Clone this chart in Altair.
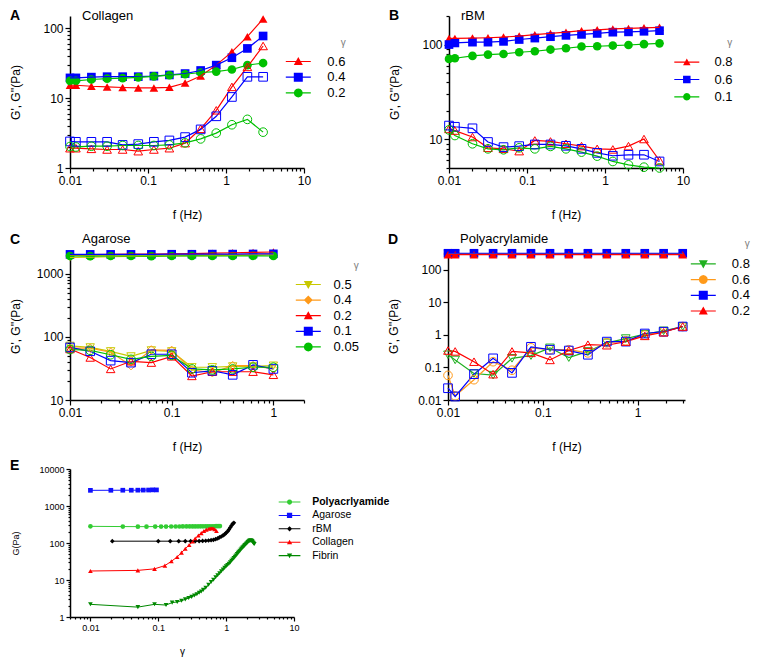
import math
import altair as alt
import pandas as pd

FONT = "Liberation Sans"

# ======================= DATA =======================
# ---- Panel A : Collagen ----
A_FREQ = [0.01, 0.0119, 0.0188, 0.0299, 0.0473, 0.075, 0.119, 0.188, 0.299, 0.473, 0.75, 1.19, 1.88, 2.99]
A_GAMMA = ["0.6", "0.4", "0.2"]
A_STORE_06 = [15.3, 15.3, 14.8, 14.5, 14.2, 14.0, 14.0, 14.3, 16.5, 20.7, 29.7, 46, 76, 136]
A_STORE_04 = [19.5, 19.5, 20.0, 20.3, 20.3, 20.3, 20.7, 21.5, 22.5, 24.9, 29.7, 37.9, 51.5, 77.6]
A_STORE_02 = [17.7, 17.7, 18.5, 19.0, 19.3, 19.8, 20.5, 21.3, 22.0, 23.3, 24.0, 25.7, 29.7, 31.8]
A_LOSS_06 = [1.92, 1.92, 1.88, 1.84, 1.84, 1.74, 1.84, 1.92, 2.27, 3.64, 6.7, 14.5, 28, 55.8]
A_LOSS_04 = [2.4, 2.37, 2.37, 2.37, 2.14, 2.2, 2.37, 2.48, 2.77, 3.57, 5.5, 10.4, 20.2, 20.2]
A_LOSS_02 = [2.03, 2.0, 2.05, 2.05, 2.1, 2.1, 2.1, 2.14, 2.29, 2.61, 3.16, 4.16, 4.97, 3.26]

# ---- Panel B : rBM ----
B_FREQ = [0.01, 0.0119, 0.02, 0.0316, 0.05, 0.0794, 0.126, 0.2, 0.316, 0.5, 0.794, 1.26, 2.0, 3.16, 5.0]
B_GAMMA = ["0.8", "0.6", "0.1"]
B_STORE_08 = [116, 116, 117, 118, 120, 123, 127, 131, 135, 140, 143, 146, 148, 150, 152]
B_STORE_06 = [100, 104, 106, 106, 108, 113, 117, 121, 125, 128, 131, 135, 136, 138, 140]
B_STORE_01 = [70.6, 71.7, 75.9, 78.4, 79.6, 83, 85, 88.6, 91.4, 95.3, 96, 97.6, 99, 101, 103]
B_LOSS_08 = [12.9, 12.4, 10.6, 8.16, 7.96, 7.53, 9.76, 9.53, 9.0, 8.5, 7.96, 7.85, 8.5, 10.1, 6.0]
B_LOSS_06 = [14.0, 13.6, 13.1, 9.4, 8.3, 8.5, 8.85, 8.85, 8.57, 7.96, 7.22, 6.73, 6.89, 6.9, 5.86]
B_LOSS_01 = [12.6, 11.0, 9.0, 7.96, 7.78, 8.16, 7.96, 8.44, 7.96, 7.35, 6.67, 5.86, 5.4, 5.1, 5.0]

# ---- Panel C : Agarose ----
C_FREQ = [0.01, 0.0158, 0.0251, 0.0398, 0.0631, 0.1, 0.158, 0.251, 0.398, 0.631, 1.0]
C_GAMMA = ["0.5", "0.4", "0.2", "0.1", "0.05"]
C_STORE_05 = [1800, 1820, 1850, 1870, 1880, 1900, 1920, 1930, 1950, 1960, 1980]
C_STORE_04 = [1950, 1950, 1960, 1960, 1970, 1980, 1990, 2000, 2010, 2030, 2050]
C_STORE_02 = [2000, 2010, 2020, 2030, 2040, 2060, 2080, 2110, 2140, 2170, 2200]
C_STORE_01 = [2020, 2020, 2020, 2020, 2020, 2030, 2030, 2040, 2040, 2050, 2060]
C_STORE_005 = [1900, 1895, 1900, 1900, 1895, 1900, 1905, 1900, 1900, 1905, 1900]
C_LOSS_05 = [72, 68, 59, 49, 61, 59, 33, 33, 34, 34, 35]
C_LOSS_04 = [66, 66, 57, 35, 62, 61, 30, 27, 35, 35, 31]
C_LOSS_02 = [64, 47, 31, 41, 39, 49, 24, 28, 28, 28, 25]
C_LOSS_01 = [68, 59, 42, 39, 53, 53, 27, 29, 25, 36, 31]
C_LOSS_005 = [63, 61, 52, 44, 49, 51, 31, 30, 31, 33, 33]

# ---- Panel D : Polyacrylamide ----
D_FREQ = [0.01, 0.0119, 0.0188, 0.0299, 0.0473, 0.075, 0.119, 0.188, 0.299, 0.473, 0.75, 1.19, 1.88, 2.99]
D_GAMMA = ["0.8", "0.6", "0.4", "0.2"]
D_STORE_08 = [300, 300, 300, 300, 300, 300, 300, 300, 300, 300, 300, 300, 300, 300]
D_STORE_06 = [310, 310, 310, 310, 310, 310, 310, 310, 310, 310, 310, 310, 310, 310]
D_STORE_04 = [320, 320, 320, 320, 320, 320, 320, 320, 320, 320, 320, 320, 320, 320]
D_STORE_02 = [290, 290, 290, 290, 290, 290, 290, 290, 290, 290, 290, 290, 290, 290]
D_LOSS_08 = [0.245, 0.17, 0.065, 0.058, 0.19, 0.23, 0.40, 0.20, 0.31, 0.57, 0.77, 1.05, 1.33, 1.8]
D_LOSS_06 = [0.057, 0.0134, 0.042, 0.15, 0.082, 0.40, 0.35, 0.35, 0.28, 0.57, 0.66, 0.98, 1.25, 1.8]
D_LOSS_04 = [0.023, 0.0128, 0.062, 0.19, 0.068, 0.43, 0.35, 0.33, 0.245, 0.62, 0.62, 1.1, 1.25, 1.8]
D_LOSS_02 = [0.33, 0.31, 0.15, 0.062, 0.31, 0.28, 0.17, 0.33, 0.5, 0.48, 0.62, 0.93, 1.2, 1.8]

# ---- Panel E : G vs strain ----
E_MATERIALS = ["Polyacrlyamide", "Agarose", "rBM", "Collagen", "Fibrin"]
E_PA_GAMMA = [0.01, 0.03, 0.05, 0.067, 0.09, 0.11, 0.13, 0.155, 0.18, 0.205, 0.23, 0.26, 0.29, 0.32,
              0.35, 0.385, 0.42, 0.455, 0.495, 0.535, 0.575, 0.62, 0.665, 0.71, 0.76, 0.81]
E_PA_G = [282, 278, 277, 277, 278, 278, 278, 279, 279, 279, 280, 280, 280, 281,
          281, 281, 282, 282, 282, 283, 283, 284, 284, 285, 285, 286]
E_AG_GAMMA = [0.01, 0.02, 0.03, 0.04, 0.05, 0.06, 0.072, 0.083, 0.094]
E_AG_G = [2650, 2660, 2670, 2670, 2680, 2690, 2700, 2730, 2720]
E_RBM_GAMMA = [0.021, 0.1, 0.15, 0.2, 0.25, 0.3, 0.35, 0.4, 0.45, 0.5, 0.55, 0.6, 0.65, 0.7, 0.75,
               0.8, 0.85, 0.9, 0.95, 1.0, 1.05, 1.1, 1.15, 1.2, 1.25, 1.3]
E_RBM_G = [112, 112, 112, 112, 112, 112, 113, 113, 114, 115, 117, 119, 122, 127, 133,
           142, 150, 160, 172, 188, 205, 230, 262, 295, 330, 350]
E_COL_GAMMA = [0.01, 0.05, 0.088, 0.125, 0.156, 0.19, 0.22, 0.25, 0.285, 0.32, 0.35, 0.39, 0.43,
               0.47, 0.51, 0.56, 0.6, 0.64, 0.68, 0.72]
E_COL_G = [17.5, 18.2, 20, 24.5, 32, 42, 55, 70, 88, 110, 132, 160, 185, 210, 230, 245, 252, 250, 235, 210]
E_FIB_GAMMA = [0.01, 0.05, 0.088, 0.13, 0.16, 0.19, 0.22, 0.25, 0.28, 0.31, 0.34, 0.37, 0.40, 0.43, 0.46,
               0.50, 0.55, 0.60, 0.65, 0.70, 0.75, 0.80, 0.85, 0.90, 0.95, 1.00, 1.05, 1.10, 1.15, 1.20,
               1.25, 1.30, 1.35, 1.40, 1.45, 1.50, 1.55, 1.60, 1.65, 1.70, 1.75, 1.80, 1.85, 1.90, 1.95,
               2.00, 2.05, 2.10, 2.15, 2.20, 2.25, 2.30, 2.35, 2.40, 2.45, 2.50, 2.55, 2.60]
E_FIB_G = [2.2, 1.85, 2.2, 2.1, 2.45, 2.55, 2.75, 3.0, 3.25, 3.5, 3.8, 4.1, 4.5, 4.9, 5.4,
           6.2, 7.4, 8.8, 10.2, 11.8, 13.5, 15.3, 17.2, 19.2, 21.3, 23.5, 25.5, 27.5, 30, 33,
           36, 39, 42.5, 46, 50, 54, 58, 62, 66.5, 71, 75, 79, 83.5, 88, 92.5,
           97, 102, 107, 111, 114, 116, 117, 116, 113, 108, 102, 97, 94]

# ======================= STYLE =======================
RED, BLUE, GREEN = "#ff0000", "#0000ff", "#00c000"
YELLOW, ORANGE = "#c8c800", "#ff9a1a"
A_COLORS, A_SHAPES = [RED, BLUE, GREEN], ["triangle-up", "square", "circle"]
B_COLORS, B_SHAPES, B_SIZES = [RED, BLUE, GREEN], ["triangle-up", "square", "circle"], [40, 75, 75]
C_COLORS = [YELLOW, ORANGE, RED, BLUE, GREEN]
C_SHAPES = ["triangle-down", "diamond", "triangle-up", "square", "circle"]
D_COLORS = ["#20b020", ORANGE, BLUE, RED]
D_SHAPES = ["triangle-down", "circle", "square", "triangle-up"]
E_COLORS = ["#33cc33", "#1010ff", "#000000", "#ff0000", "#008800"]
E_SHAPES = ["circle", "square", "diamond", "triangle-up", "triangle-down"]

MAJOR = "abs(log(datum.value) / LN10 - round(log(datum.value) / LN10)) < 0.000001"
INDEP = dict(color="independent", shape="independent", size="independent")


def log_ticks(lo, hi, minor=True):
    out = []
    e = math.floor(math.log10(lo) + 1e-9)
    while 10 ** e <= hi * 1.0001:
        for m in (range(1, 10) if minor else [1]):
            v = round(m * 10 ** e, 10)
            if lo * 0.9999 <= v <= hi * 1.0001:
                out.append(v)
        e += 1
    return out


def fmt(v):
    return f"{round(v, 3):g}"


def sym_path(shape, L, t, m):
    """legend glyph: a short line with the marker drawn on it (one clockwise path)"""
    bar = f"M{fmt(-L)},{fmt(-t)}H{fmt(L)}V{fmt(t)}H{fmt(-L)}Z"
    if shape == "circle":
        pts = [(m * math.cos(math.radians(-90 + 30 * k)), m * math.sin(math.radians(-90 + 30 * k)))
               for k in range(12)]
        mk = "M" + "L".join(f"{fmt(px)},{fmt(py)}" for px, py in pts) + "Z"
    elif shape == "square":
        mk = f"M{fmt(-m)},{fmt(-m)}H{fmt(m)}V{fmt(m)}H{fmt(-m)}Z"
    elif shape == "triangle-up":
        mk = f"M0,{fmt(-m)}L{fmt(m)},{fmt(0.8 * m)}L{fmt(-m)},{fmt(0.8 * m)}Z"
    elif shape == "triangle-down":
        mk = f"M{fmt(-m)},{fmt(-0.8 * m)}L{fmt(m)},{fmt(-0.8 * m)}L0,{fmt(m)}Z"
    else:  # diamond
        mk = f"M0,{fmt(-m)}L{fmt(m)},0L0,{fmt(m)}L{fmt(-m)},0Z"
    return bar + mk


def sym_expr(keys, paths):
    expr = f"'{paths[-1]}'"
    for k, p in reversed(list(zip(keys[:-1], paths[:-1]))):
        expr = f"datum.value === '{k}' ? '{p}' : ({expr})"
    return expr


def rev(seq):
    # same mapping, listed the other way round, so these scales stay out of the colour legend
    return list(reversed(seq))


def axis(values, title, label_size, title_size, major_tick=5, minor_tick=3, **extra):
    return alt.Axis(
        values=values, title=title, format="~g",
        labelExpr=f"({MAJOR}) ? datum.label : ''",
        labelOverlap=False, labelFlush=False, grid=False,
        labelFont=FONT, titleFont=FONT, labelFontSize=label_size, titleFontSize=title_size,
        titleFontWeight="normal", labelColor="black", titleColor="black",
        domainColor="black", tickColor="black", domainWidth=1.5, tickWidth=1.2,
        tickSize={"condition": {"test": MAJOR, "value": major_tick}, "value": minor_tick},
        labelPadding=2, **extra)


def legend(keys, shapes, x, y, label_offset, row_pad, *, title="γ", label_size=13,
           symbol_size=100, L=2.5, t=0.12, m=0.9, title_pad=6, label_weight=None):
    paths = [sym_path(s, L, t, m) for s in shapes]
    kw = dict(orient="none", legendX=x, legendY=y, labelFont=FONT, labelFontSize=label_size,
              labelColor="black", symbolSize=symbol_size, symbolStrokeWidth=0,
              symbolType=alt.ExprRef(sym_expr(keys, paths)),
              labelOffset=label_offset, rowPadding=row_pad)
    if label_weight:
        kw["labelFontWeight"] = alt.ExprRef(label_weight)
    if title:
        kw.update(title=title, titleFont=FONT, titleFontSize=10, titleColor="#808080",
                  titleFontWeight="normal", titleAnchor="end", titleAlign="right",
                  titlePadding=title_pad)
    else:
        kw["title"] = None
    return alt.Legend(**kw)


def build_df(freqs, gammas, storage, loss):
    rows = []
    for g, sp, lo in zip(gammas, storage, loss):
        for f, v in zip(freqs, sp):
            rows.append({"f": f, "G": v, "gamma": g, "kind": "storage"})
        for f, v in zip(freqs, lo):
            rows.append({"f": f, "G": v, "gamma": g, "kind": "loss"})
    return pd.DataFrame(rows)


def text_layer(txt, x, y, size, weight="normal", baseline="alphabetic"):
    return alt.Chart(pd.DataFrame({"t": [txt]})).mark_text(
        align="left", baseline=baseline, font=FONT, fontSize=size, fontWeight=weight,
        color="black").encode(x=alt.value(x), y=alt.value(y), text="t:N")


def panel(df, gammas, colors, shapes, sizes, *, width, height, xdom, ydom, xticks, yticks,
          title, title_y, letter, letter_y, leg):
    xs = alt.Scale(type="log", domain=xdom, nice=False)
    ys = alt.Scale(type="log", domain=ydom, nice=False)
    x = alt.X("f:Q", scale=xs, axis=axis(xticks, "f (Hz)", 12, 12, titleY=41))
    y = alt.Y("G:Q", scale=ys, axis=axis(yticks, "G', G''(Pa)", 12, 12, titleX=-48))
    cs = alt.Scale(domain=gammas, range=colors)
    ss = alt.Scale(domain=rev(gammas), range=rev(shapes))
    zs = alt.Scale(domain=rev(gammas), range=rev(sizes))
    base = alt.Chart(df).encode(x=x, y=y)
    # the layer that carries the legend comes first so that its legend settings win
    store = base.transform_filter("datum.kind == 'storage'").mark_point(
        filled=True, opacity=1).encode(
        color=alt.Color("gamma:N", scale=cs, legend=leg),
        shape=alt.Shape("gamma:N", scale=ss, legend=None),
        size=alt.Size("gamma:N", scale=zs, legend=None))
    lines = base.mark_line(strokeWidth=1.2).encode(
        color=alt.Color("gamma:N", scale=cs, legend=None), detail="kind:N")
    loss = base.transform_filter("datum.kind == 'loss'").mark_point(
        filled=False, strokeWidth=1, opacity=1).encode(
        color=alt.Color("gamma:N", scale=cs, legend=None),
        shape=alt.Shape("gamma:N", scale=ss, legend=None),
        size=alt.Size("gamma:N", scale=zs, legend=None))
    return alt.layer(
        store, lines, loss,
        text_layer(title, 12, title_y, 13),
        text_layer(letter, -60, letter_y, 14, "bold", "middle"),
    ).properties(width=width, height=height)


# ======================= PANELS =======================
dfA = build_df(A_FREQ, A_GAMMA, [A_STORE_06, A_STORE_04, A_STORE_02], [A_LOSS_06, A_LOSS_04, A_LOSS_02])
dfB = build_df(B_FREQ, B_GAMMA, [B_STORE_08, B_STORE_06, B_STORE_01], [B_LOSS_08, B_LOSS_06, B_LOSS_01])
dfC = build_df(C_FREQ, C_GAMMA, [C_STORE_05, C_STORE_04, C_STORE_02, C_STORE_01, C_STORE_005],
               [C_LOSS_05, C_LOSS_04, C_LOSS_02, C_LOSS_01, C_LOSS_005])
dfD = build_df(D_FREQ, D_GAMMA, [D_STORE_08, D_STORE_06, D_STORE_04, D_STORE_02],
               [D_LOSS_08, D_LOSS_06, D_LOSS_04, D_LOSS_02])

pA = panel(dfA, A_GAMMA, A_COLORS, A_SHAPES, [80, 75, 75], width=234, height=152,
           xdom=[0.01, 10], ydom=[1, 150], xticks=log_ticks(0.01, 10), yticks=log_ticks(1, 150),
           title="Collagen", title_y=4, letter="A", letter_y=0,
           leg=legend(A_GAMMA, A_SHAPES, 221.8, 22.4, 22.5, 1.7, title_pad=6.6))
pB = panel(dfB, B_GAMMA, B_COLORS, B_SHAPES, B_SIZES, width=234, height=152,
           xdom=[0.01, 10], ydom=[5, 200], xticks=log_ticks(0.01, 10), yticks=log_ticks(5, 200),
           title="rBM", title_y=4, letter="B", letter_y=0,
           leg=legend(B_GAMMA, B_SHAPES, 231.3, 22.4, 21.1, 3.3, m=0.75, title_pad=7.3))
pC = panel(dfC, C_GAMMA, C_COLORS, C_SHAPES, [75, 60, 75, 70, 75], width=234, height=148,
           xdom=[0.01, 2], ydom=[10, 2200], xticks=log_ticks(0.01, 2), yticks=log_ticks(10, 2200),
           title="Agarose", title_y=-9, letter="C", letter_y=-12,
           leg=legend(C_GAMMA, C_SHAPES, 231.8, 9.0, 18.8, 1.6, title_pad=7))
pD = panel(dfD, D_GAMMA, D_COLORS, D_SHAPES, [75, 75, 75, 75], width=237, height=148,
           xdom=[0.01, 3.16], ydom=[0.01, 350], xticks=log_ticks(0.01, 3.16),
           yticks=log_ticks(0.01, 350, minor=False),
           title="Polyacrylamide", title_y=-9, letter="D", letter_y=-12,
           leg=legend(D_GAMMA, D_SHAPES, 248.8, -12.6, 22, 1.7, title_pad=8))

# ---- Panel E ----
e_rows = []
for mat, gs, vs in zip(E_MATERIALS, [E_PA_GAMMA, E_AG_GAMMA, E_RBM_GAMMA, E_COL_GAMMA, E_FIB_GAMMA],
                       [E_PA_G, E_AG_G, E_RBM_G, E_COL_G, E_FIB_G]):
    for g, v in zip(gs, vs):
        e_rows.append({"strain": g, "G": v, "material": mat})
dfE = pd.DataFrame(e_rows)

ex = alt.X("strain:Q", scale=alt.Scale(type="log", domain=[0.005, 10], nice=False),
           axis=axis(log_ticks(0.005, 10), "γ", 9, 10, 4, 2, titleY=29))
ey = alt.Y("G:Q", scale=alt.Scale(type="log", domain=[1, 10000], nice=False),
           axis=axis(log_ticks(1, 10000), "G(Pa)", 9, 9, 4, 2, titleX=-50))
ecs = alt.Scale(domain=E_MATERIALS, range=E_COLORS)
ess = alt.Scale(domain=rev(E_MATERIALS), range=rev(E_SHAPES))
e_leg = legend(E_MATERIALS, E_SHAPES, 214.3, 27.8, 17.4, 2.4, title=None, label_size=10.5,
               symbol_size=49, L=3.1, t=0.15, m=0.75,
               label_weight="datum.label === 'Polyacrlyamide' ? 'bold' : 'normal'")
ebase = alt.Chart(dfE).encode(x=ex, y=ey)
e_pts = ebase.mark_point(filled=True, size=22, opacity=1).encode(
    color=alt.Color("material:N", scale=ecs, legend=e_leg),
    shape=alt.Shape("material:N", scale=ess, legend=None))
e_lines = ebase.mark_line(strokeWidth=1).encode(color=alt.Color("material:N", scale=ecs, legend=None))
pE = alt.layer(e_pts, e_lines, text_layer("E", -60, -3, 14, "bold", "middle")).properties(
    width=224, height=148)

row1 = alt.hconcat(pA, pB, spacing=145, bounds="flush").resolve_scale(**INDEP).resolve_legend(color="independent")
row2 = alt.hconcat(pC, pD, spacing=144, bounds="flush").resolve_scale(**INDEP).resolve_legend(color="independent")
top = alt.vconcat(row1, row2, spacing=11).resolve_scale(**INDEP).resolve_legend(color="independent")
chart = alt.vconcat(top, pE, spacing=5).resolve_scale(**INDEP).resolve_legend(color="independent").properties(
    padding={"left": 0, "top": 0, "right": 0, "bottom": 0}, background="white"
).configure_view(stroke="transparent")

chart.save("out.html", embed_options={"renderer": "svg", "actions": False})
